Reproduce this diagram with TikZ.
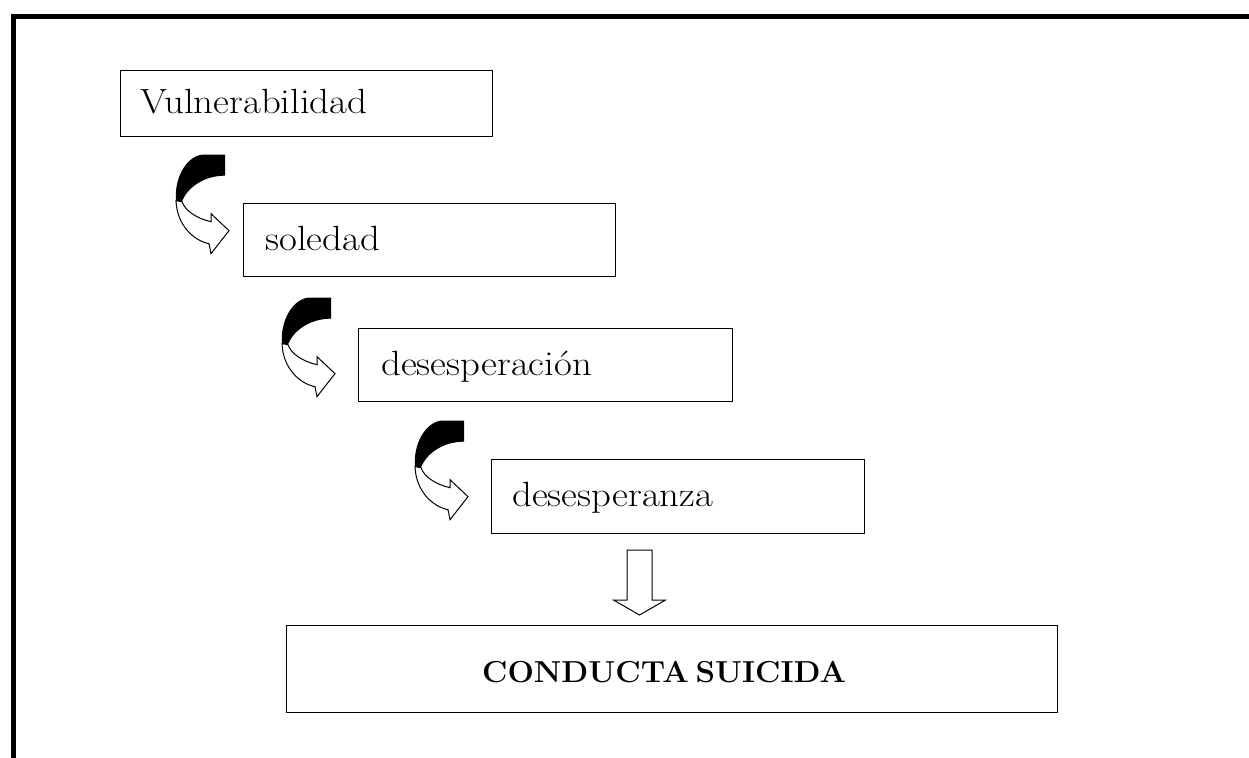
\documentclass[tikz,border=0pt]{standalone}
\usepackage{fontspec}
\usetikzlibrary{calc}

% slightly widened serif faces for the step labels
\newfontfamily\stepfont[FakeStretch=1.11]{Latin Modern Roman}
\newfontfamily\headfont[FakeStretch=1.03]{Latin Modern Roman}

\tikzset{
  box/.style={draw, line width=0.8pt, anchor=north west, inner sep=0pt},
  lbl/.style={anchor=base west, inner sep=0pt, font=\stepfont\fontsize{21}{25}\selectfont},
  boldlbl/.style={anchor=base, inner sep=0pt, font=\headfont\fontsize{18.2}{22}\selectfont\bfseries},
  outline/.style={draw, fill=white, line width=0.6pt, line join=miter},
  % curved arrow whose point sits at the pic origin
  curvearrow/.pic={
    \fill[black] (-27,-76) -- (-4,-76) -- (-4,-55)
      .. controls (-25,-55) and (-42,-43) .. (-47,-29)
      -- (-53,-30)
      .. controls (-55,-52) and (-43,-74) .. (-27,-76) -- cycle;
    \draw[outline] (-53,-30)
      .. controls (-52,-5) and (-35,10) .. (-20,13)
      -- (-18,23) -- (0,0) -- (-18,-17) -- (-18,-9)
      .. controls (-32,-12) and (-44,-20) .. (-47,-29) -- cycle;
  }
}
\def\px{0.6pt}

\begin{document}
\begin{tikzpicture}[x=0.6pt, y=-0.6pt]
\useasboundingbox (0,0) rectangle (1249,757);

% outer frame (top and left edges)
\draw[line width=3pt, line cap=rect] (13,757) -- (13,16) -- (1249,16);

% boxes
\node[box, minimum width=372*\px, minimum height=66*\px] (vul) at (120,70) {};
\node[box, minimum width=372*\px, minimum height=73*\px] (sol) at (243,203) {};
\node[box, minimum width=374*\px, minimum height=73*\px] (dsp) at (358,328) {};
\node[box, minimum width=373*\px, minimum height=74*\px] (dsz) at (491,459) {};
\node[box, minimum width=771*\px, minimum height=87*\px] (cs) at (286,625) {};

% labels
\node[lbl] (tvul) at ($(vul.west)+(20,10)$) {Vulnerabilidad};
\node[lbl] (tsol) at ($(sol.west)+(22,10)$) {soledad};
\node[lbl] (tdsp) at ($(dsp.west)+(23,10)$) {desesperación};
\node[lbl] (tdsz) at ($(dsz.west)+(21,10)$) {desesperanza};
\node[boldlbl] (tcs) at ($(cs.center)+(-8,13)$) {CONDUCTA\hspace{0.22em}SUICIDA};

% curved arrows between the steps
\pic at ($(sol.west)+(-14,-9.5)$) {curvearrow};
\pic at ($(dsp.west)+(-23,8.5)$) {curvearrow};
\pic at ($(dsz.west)+(-23,0)$) {curvearrow};

% hollow down arrow to the last box
\coordinate (dtop) at (639.5,550);
\coordinate (dtip) at (639.5,615);
\draw[outline] ($(dtop)+(-12.5,0)$) -- ($(dtop)+(12.5,0)$)
  -- ($(dtip)+(12.5,-15)$) -- ($(dtip)+(26,-15)$) -- (dtip)
  -- ($(dtip)+(-26,-15)$) -- ($(dtip)+(-12.5,-15)$) -- cycle;
\end{tikzpicture}
\end{document}
